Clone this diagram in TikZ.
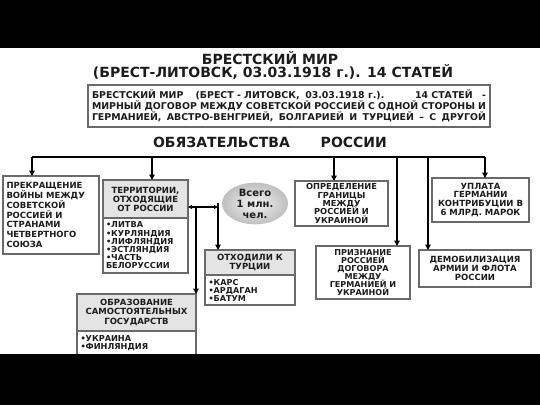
\documentclass[tikz,border=0pt]{standalone}
\usepackage{fontspec}
\setmainfont{DejaVu Sans}
\usetikzlibrary{arrows.meta,shapes.geometric}
\definecolor{bordc}{HTML}{6A6A6A}
\definecolor{headc}{HTML}{E4E4E4}
\definecolor{txtc}{HTML}{1C1C1C}
\newcommand{\bxs}[2]{\bfseries\fontsize{#1}{#2}\selectfont\lineskiplimit=-20pt\relax}
\newcommand{\bxf}[1]{\bxs{8.5}{#1}}
\begin{document}
\begin{tikzpicture}[x=1pt,y=-1pt,
  box/.style={draw=bordc, line width=1.6pt, fill=white, text=txtc, outer sep=0pt,
    font=\bxf{9.6}, inner sep=0pt, align=center, anchor=north west},
  hbox/.style={box, fill=headc},
  lbox/.style={box, align=left, font=\bxs{8.2}{8.2}},
  arr/.style={line width=1.6pt, draw=black, -{Triangle[length=5.5pt,width=5.5pt]}},
  ln/.style={line width=1.6pt, draw=black},
  ttl/.style={font=\bfseries\fontsize{14}{16}\selectfont, text=txtc, inner sep=0pt}
]
\useasboundingbox (0,0) rectangle (540,405);
\fill[white] (0,0) rectangle (540,405);

% titles
\node[ttl] (t1) at (270,58) {БРЕСТСКИЙ МИР};
\node[ttl] (t2) at (273,72) {(БРЕСТ-ЛИТОВСК, 03.03.1918 г.). 14 СТАТЕЙ};

\node[box, minimum width=402pt, minimum height=42pt, font=\bfseries\fontsize{9.4}{10.9}\selectfont] (top) at (88,85)
 {\makebox[394pt][l]{БРЕСТСКИЙ МИР\hspace{1.3em}(БРЕСТ - ЛИТОВСК,\hspace{0.6em}03.03.1918 г.).\hfill 14 СТАТЕЙ\hspace{1em}-}\\
  \makebox[394pt][s]{МИРНЫЙ ДОГОВОР МЕЖДУ СОВЕТСКОЙ РОССИЕЙ С ОДНОЙ СТОРОНЫ И}\\
  \makebox[394pt][s]{ГЕРМАНИЕЙ, АВСТРО-ВЕНГРИЕЙ, БОЛГАРИЕЙ И ТУРЦИЕЙ – С ДРУГОЙ}};

\node[ttl] (obl) at (270,142) {ОБЯЗАТЕЛЬСТВА\hspace{2.2em}РОССИИ};

% boxes
\node[box, minimum width=96pt, minimum height=78pt, align=left, text width=89pt, font=\bxf{9.8}] (prek) at (3,176)
 {ПРЕКРАЩЕНИЕ\\ВОЙНЫ МЕЖДУ\\СОВЕТСКОЙ\\РОССИЕЙ И\\СТРАНАМИ\\ЧЕТВЕРТНОГО\\СОЮЗА};

\node[hbox, minimum width=85pt, minimum height=38pt, font=\bxf{9}] (terrh) at (103,180)
 {ТЕРРИТОРИИ,\\ОТХОДЯЩИЕ\\ОТ РОССИИ};
\node[lbox, minimum width=85pt, minimum height=55pt, text width=79pt] (terrl) at (103,218)
 {•ЛИТВА\\•КУРЛЯНДИЯ\\•ЛИФЛЯНДИЯ\\•ЭСТЛЯНДИЯ\\•ЧАСТЬ\\БЕЛОРУССИИ};

\node[ellipse, minimum width=66pt, minimum height=37pt, inner sep=0pt, shading=radial,
  inner color=gray!10, outer color=gray!50, text=txtc,
  font=\bfseries\fontsize{10}{11}\selectfont, align=center] (ell) at (255,203.5)
 {Всего\\1 млн.\\чел.};

\node[box, minimum width=93pt, minimum height=45pt, font=\bxs{8.3}{8.4}] (opr) at (295,181)
 {ОПРЕДЕЛЕНИЕ\\ГРАНИЦЫ\\МЕЖДУ\\РОССИЕЙ И\\УКРАИНОЙ};
\node[box, minimum width=97pt, minimum height=44pt, font=\bxf{8.9}] (upl) at (432,178)
 {УПЛАТА\\ГЕРМАНИИ\\КОНТРИБУЦИИ В\\6 МЛРД. МАРОК};

\node[hbox, minimum width=90pt, minimum height=25pt, font=\bxf{9}] (turh) at (205,250)
 {ОТХОДИЛИ К\\ТУРЦИИ};
\node[lbox, minimum width=90pt, minimum height=30pt, text width=83pt, font=\bxs{8.1}{8}] (turl) at (205,275)
 {•КАРС\\•АРДАГАН\\•БАТУМ};

\node[box, minimum width=94pt, minimum height=53pt, font=\bxs{8.1}{8}] (priz) at (316,246)
 {ПРИЗНАНИЕ\\РОССИЕЙ\\ДОГОВОРА\\МЕЖДУ\\ГЕРМАНИЕЙ И\\УКРАИНОЙ};
\node[box, minimum width=112pt, minimum height=37pt, font=\bxf{8.8}] (dem) at (419,250)
 {ДЕМОБИЛИЗАЦИЯ\\АРМИИ И ФЛОТА\\РОССИИ};

\node[hbox, minimum width=119pt, minimum height=37pt, font=\bxf{9.3}] (obrh) at (77,294)
 {ОБРАЗОВАНИЕ\\САМОСТОЯТЕЛЬНЫХ\\ГОСУДАРСТВ};
\node[lbox, minimum width=119pt, minimum height=25pt, text width=112pt] (obrl) at (77,331)
 {•УКРАИНА\\•ФИНЛЯНДИЯ\\[2pt]};

% connectors
\coordinate (L) at (32,157);
\coordinate (R) at (485,157);
\coordinate (c2) at (152,157);
\coordinate (c3) at (334,157);
\coordinate (c5) at (397,157);
\coordinate (c6) at (428,157);
\draw[ln] (L) -- (R);
\draw[arr] (L) -- (L |- prek.north);
\draw[arr] (c2) -- (c2 |- terrh.north);
\draw[arr] (c3) -- (c3 |- opr.north);
\draw[arr] (R) -- (R |- upl.north);
\draw[arr] (c5) -- (c5 |- priz.north);
\draw[arr] (c6) -- (c6 |- dem.north);

\coordinate (j) at (218,203);
\coordinate (k) at (218,207);
\coordinate (m) at (196,207);
\draw[arr] (j) -- (j |- turh.north);
\draw[line width=1.2pt, {Triangle[length=4pt,width=4pt]}-{Triangle[length=4pt,width=4pt]}] (k -| terrh.east) -- (k);
\draw[arr] (m) -- (m |- obrh.north);

% black bands
\fill[black] (0,0) rectangle (540,48);
\fill[black] (0,354) rectangle (540,405);
\end{tikzpicture}
\end{document}
